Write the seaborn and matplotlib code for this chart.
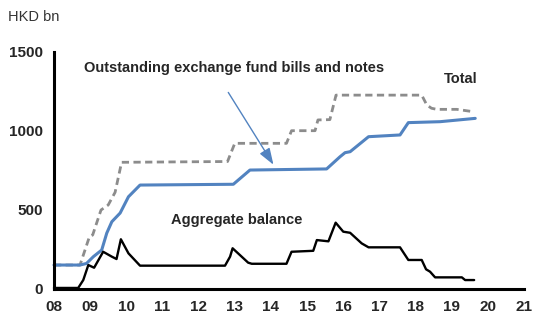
import matplotlib
matplotlib.use("Agg")
import matplotlib.pyplot as plt
import seaborn as sns
import pandas as pd

# ---- data (x = year, 8 = 2008) ----
total_x = [8.0, 8.72, 8.98, 9.07, 9.30, 9.50, 9.69, 9.87, 12.80, 13.00, 14.43, 14.57,
           15.22, 15.30, 15.63, 15.80, 18.17, 18.31, 18.44, 18.59, 19.14, 19.60]
total_y = [150, 150, 329, 340, 498, 530, 610, 800, 805, 920, 920, 1000,
           1000, 1068, 1070, 1225, 1225, 1163, 1142, 1135, 1135, 1120]

efbn_x = [8.0, 8.72, 8.90, 9.09, 9.32, 9.46, 9.60, 9.83, 10.06, 10.38, 12.96, 13.42,
          15.54, 15.91, 16.05, 16.19, 16.70, 17.57, 17.80, 18.68, 19.65]
efbn_y = [150, 150, 160, 203, 245, 352, 424, 479, 582, 656, 661, 751,
          758, 835, 861, 867, 962, 973, 1051, 1057, 1078]

agg_x = [8.0, 8.67, 8.81, 8.95, 9.11, 9.36, 9.60, 9.73, 9.85, 10.06, 10.38, 12.73,
         12.87, 12.94, 13.37, 13.47, 14.43, 14.57, 15.17, 15.27, 15.59, 15.79, 16.00,
         16.19, 16.51, 16.70, 17.57, 17.80, 18.17, 18.29, 18.40, 18.54, 19.28, 19.37, 19.62]
agg_y = [5, 5, 55, 150, 133, 234, 203, 188, 313, 224, 146, 146,
         203, 256, 165, 158, 158, 234, 240, 308, 300, 418, 361,
         354, 287, 262, 262, 182, 182, 123, 108, 72, 72, 55, 55]

tick_years = list(range(8, 22))
tick_labels = [f"{y:02d}" for y in tick_years]
y_ticks = [0, 500, 1000, 1500]

label_efbn = "Outstanding exchange fund bills and notes"
label_total = "Total"
label_agg = "Aggregate balance"
unit_label = "HKD bn"

sns.set_style("white")
plt.rcParams['font.family'] = ['Liberation Sans', 'DejaVu Sans']

fig = plt.figure(figsize=(5.36, 3.27), dpi=100)
ax = fig.add_axes([0.1007, 0.117, 0.877, 0.725])

blue = "#5283C0"
df_t = pd.DataFrame({"x": total_x, "y": total_y})
df_e = pd.DataFrame({"x": efbn_x, "y": efbn_y})
df_a = pd.DataFrame({"x": agg_x, "y": agg_y})

sns.lineplot(data=df_t, x="x", y="y", ax=ax, color="#8C8C8C", linewidth=2.0,
             linestyle=(0, (2.6, 1.6)), sort=False, estimator=None)
sns.lineplot(data=df_e, x="x", y="y", ax=ax, color=blue, linewidth=2.2,
             sort=False, estimator=None)
sns.lineplot(data=df_a, x="x", y="y", ax=ax, color="black", linewidth=1.7,
             sort=False, estimator=None)

ax.set_xlim(8, 21)
ax.set_ylim(0, 1500)
ax.set_xticks(tick_years)
ax.set_xticklabels(tick_labels)
ax.set_yticks(y_ticks)
ax.set_xlabel("")
ax.set_ylabel("")

for s in ["top", "right"]:
    ax.spines[s].set_visible(False)
for s in ["left", "bottom"]:
    ax.spines[s].set_color("black")
    ax.spines[s].set_linewidth(2.2)
ax.tick_params(axis="both", which="major", direction="out", length=5, width=2,
               color="black", labelsize=11, pad=3)
for lab in ax.get_xticklabels() + ax.get_yticklabels():
    lab.set_fontweight("bold")

ax.text(8.83, 1397, label_efbn, fontsize=10.5, fontweight="bold", va="center", ha="left")
ax.text(18.77, 1325, label_total, fontsize=10.5, fontweight="bold", va="center", ha="left")
ax.text(11.23, 435, label_agg, fontsize=10.5, fontweight="bold", va="center", ha="left")

ax.annotate("", xy=(14.11, 770), xytext=(12.78, 1257),
            arrowprops=dict(arrowstyle="-|>,head_length=1.0,head_width=0.35",
                            color=blue, lw=1.0))

fig.text(8 / 536, 1 - 17 / 327, unit_label, fontsize=10.5, color="#333333",
         va="center", ha="left")

for ln in ax.lines:
    ln.set_clip_on(False)

fig.savefig("out.png", dpi=100)
